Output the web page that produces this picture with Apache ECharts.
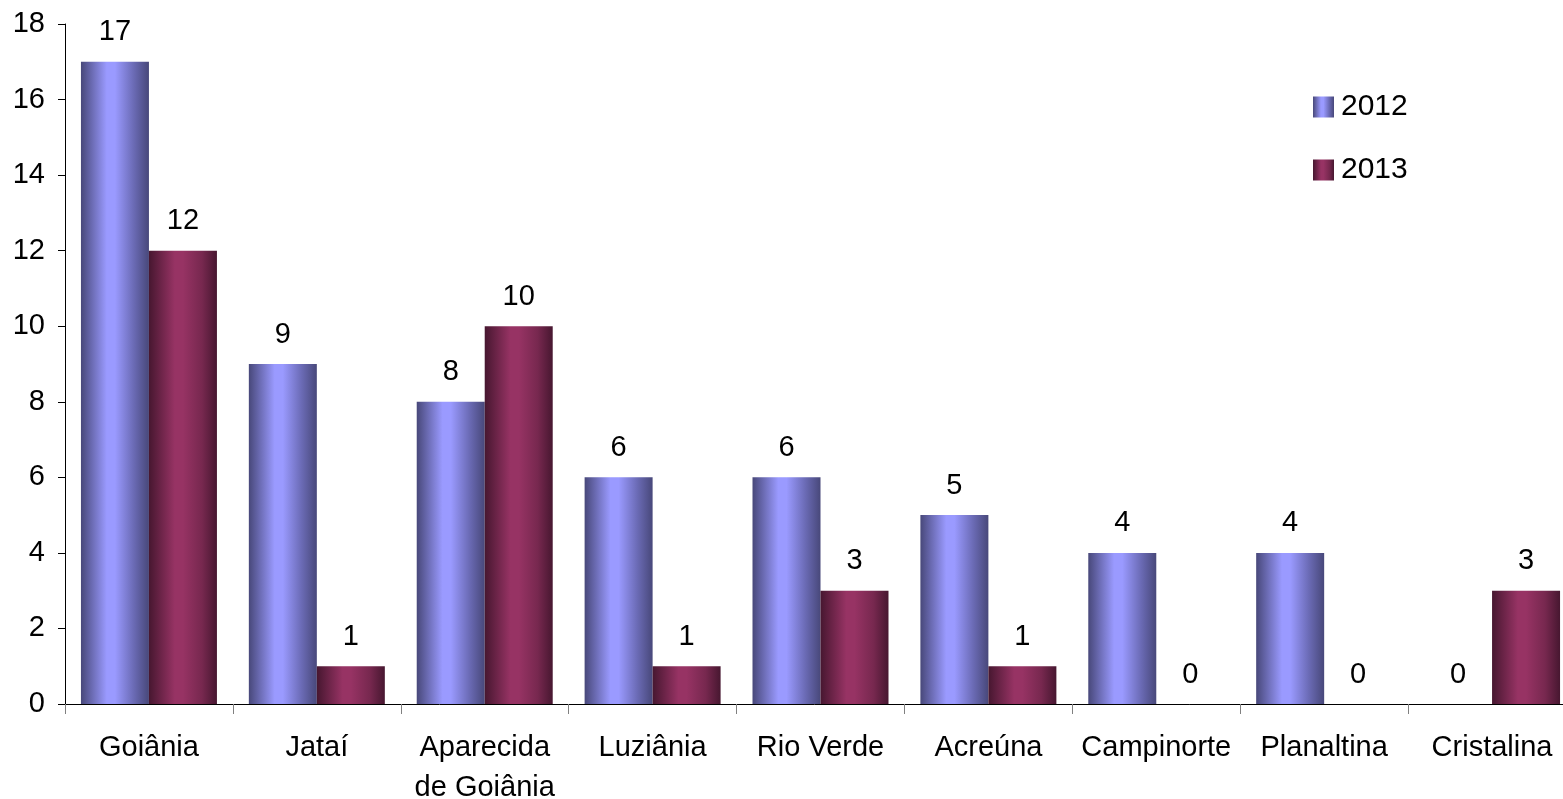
<!DOCTYPE html>
<html>
<head>
<meta charset="utf-8">
<script src="https://cdn.jsdelivr.net/npm/echarts@6/dist/echarts.min.js"></script>
<style>
  html, body { margin: 0; padding: 0; background: #fff; }
  #chart { width: 1563px; height: 799px; }
</style>
</head>
<body>
<div id="chart"></div>
<script>
// Municipalities and yearly counts
const categories = ['Goiânia', 'Jataí', 'Aparecida\nde Goiânia', 'Luziânia', 'Rio Verde', 'Acreúna', 'Campinorte', 'Planaltina', 'Cristalina'];
const values2012 = [17, 9, 8, 6, 6, 5, 4, 4, 0];
const values2013 = [12, 1, 10, 1, 3, 1, 0, 0, 3];
const yTicks = { min: 0, max: 18, interval: 2 };

const FONT = '"Liberation Sans", Arial, sans-serif';
const FS = 29;

// Cylinder-like horizontal shading for each series
function shade(dark, light, mid) {
  return {
    type: 'linear', x: 0, y: 0, x2: 1, y2: 0,
    colorStops: [
      { offset: 0, color: dark },
      { offset: 0.38, color: light },
      { offset: 0.5, color: light },
      { offset: 0.78, color: mid },
      { offset: 1, color: dark }
    ]
  };
}

const labelStyle = {
  show: true, position: 'top', distance: 15,
  color: '#000', fontSize: FS, fontFamily: FONT
};

const chart = echarts.init(document.getElementById('chart'), null, { renderer: 'canvas' });
chart.setOption({
  animation: false,
  backgroundColor: '#fff',
  textStyle: { fontFamily: FONT },
  grid: { left: 65, top: 24, width: 1511, height: 680, containLabel: false, outerBoundsMode: 'none' },
  legend: {
    orient: 'vertical', left: 1308, top: 87, itemGap: 33,
    itemWidth: 21, itemHeight: 21, icon: 'rect',
    textStyle: { color: '#000', fontSize: 30, fontFamily: FONT, padding: [0, 0, 0, 2] },
    data: ['2012', '2013']
  },
  xAxis: {
    type: 'category',
    data: categories,
    axisLine: { lineStyle: { color: '#000', width: 1 } },
    axisTick: { show: true, length: 10, lineStyle: { color: '#808080' } },
    axisLabel: { color: '#000', fontSize: FS, fontFamily: FONT, margin: 24, lineHeight: 40, interval: 0 }
  },
  yAxis: {
    type: 'value',
    min: yTicks.min, max: yTicks.max, interval: yTicks.interval,
    splitLine: { show: false },
    axisLine: { show: true, lineStyle: { color: '#000', width: 1 } },
    axisTick: { show: true, length: 7, lineStyle: { color: '#000' } },
    axisLabel: { color: '#000', fontSize: FS, fontFamily: FONT, margin: 20 }
  },
  series: [
    {
      name: '2012', type: 'bar', data: values2012,
      barGap: '0%', barCategoryGap: '19%',
      itemStyle: { color: shade('#48487a', '#9a9aff', '#6a6ab4') },
      label: labelStyle
    },
    {
      name: '2013', type: 'bar', data: values2013,
      itemStyle: { color: shade('#471730', '#973364', '#77284f') },
      label: labelStyle
    }
  ]
});
</script>
</body>
</html>
